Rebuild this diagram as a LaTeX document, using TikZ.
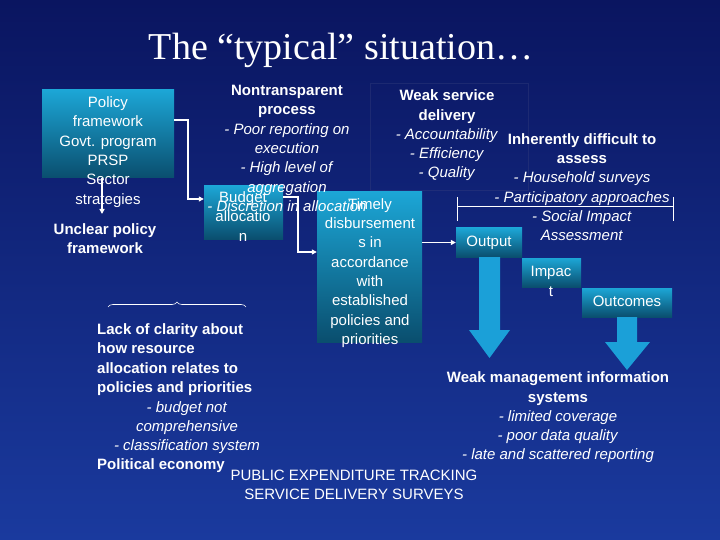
\documentclass[tikz,border=0pt]{standalone}
\usepackage{fontspec}
\setmainfont{Liberation Sans}
\newfontfamily\titlefont{Liberation Serif}
\usetikzlibrary{decorations.pathreplacing,arrows.meta}
\definecolor{bgtop}{HTML}{0A1560}
\definecolor{bgbot}{HTML}{1A3A9E}
\definecolor{boxtop}{HTML}{1CA6D6}
\definecolor{boxbot}{HTML}{0A4E6E}
\definecolor{bigarrow}{HTML}{1BA0D8}
\tikzset{
  tbox/.style={top color=boxtop,bottom color=boxbot,draw=none},
  txt/.style={text=white,align=center,font=\fontsize{15}{19.3}\selectfont,inner sep=0pt},
  conn/.style={white,line width=1.2pt,-{Triangle[length=5pt,width=5pt]}},
  big/.style={fill=bigarrow,draw=none}
}
\begin{document}
\begin{tikzpicture}[x=1pt,y=-1pt]
\useasboundingbox (0,0) rectangle (720,540);
\shade[top color=bgtop,bottom color=bgbot] (0,0) rectangle (720,540);
\draw[white!20!bgtop,opacity=0.35] (370,83) rectangle (528,190);
% boxes
\node[tbox,minimum width=132,minimum height=88,inner sep=0pt] (pol) at (108,134) {};
\node[tbox,minimum width=79,minimum height=53,inner sep=0pt] (bud) at (243.5,212.5) {};
\node[tbox,minimum width=105,minimum height=150,inner sep=0pt] (tim) at (369.5,267) {};
\node[tbox,minimum width=66,minimum height=29,inner sep=0pt] (out) at (489,242.5) {};
\node[tbox,minimum width=59,minimum height=29,inner sep=0pt] (imp) at (551.5,272.5) {};
\node[tbox,minimum width=90,minimum height=29,inner sep=0pt] (outc) at (627,302.5) {};
% big arrows
\fill[big] (479,257) -- (500,257) -- (500,330) -- (510,330) -- (489.5,358) -- (469,330) -- (479,330) -- cycle;
\fill[big] (617,317) -- (637,317) -- (637,342) -- (650,342) -- (627,370) -- (605,342) -- (617,342) -- cycle;
% connectors
\coordinate (c1) at (188,120); \coordinate (c2) at (188,199);
\draw[conn] (pol.east |- c1) -- (c1) -- (c2) -- (bud.west |- c2);
\coordinate (c3) at (298,197); \coordinate (c4) at (298,252);
\draw[conn] (bud.east |- c3) -- (c3) -- (c4) -- (tim.west |- c4);
\draw[conn] (tim.east |- out) -- (out.west);
\coordinate (c5) at (102,214);
\draw[conn] (102,178) -- (c5);
% bracket right
\draw[white,line width=0.8pt] (457,197) -- (457,221) (673,197) -- (673,221) (457,206) -- (673,206);
% brace
\draw[white,line width=0.6pt,decorate,decoration={brace,amplitude=5pt}] (108,307) -- (246,307);
% title
\node[text=white,font=\titlefont\fontsize{38}{44}\selectfont,inner sep=0pt] (title) at (341,50) {The “typical” situation…};
% texts
\node[txt] (t1) at (108,152) {Policy\\framework\\Govt. program\\PRSP\\Sector\\strategies};
\node[txt,font=\bfseries\fontsize{15}{19.3}\selectfont] (t2) at (105,238.5) {Unclear policy\\framework};
\node[txt] (t3) at (287,148.5) {\textbf{Nontransparent}\\\textbf{process}\\\textit{- Poor reporting on}\\\textit{execution}\\\textit{- High level of}\\\textit{aggregation}\\\textit{- Discretion in allocation}};
\node[txt] (t4) at (243,216.5) {Budget\\allocatio\\n};
\node[txt] (t5) at (370,273) {Timely\\disbursement\\s in\\accordance\\with\\established\\policies and\\priorities};
\node[txt] (t6) at (447,135.5) {\textbf{Weak service}\\\textbf{delivery}\\\textit{- Accountability}\\\textit{- Efficiency}\\\textit{- Quality}};
\node[txt] (t7) at (582,187) {\textbf{Inherently difficult to}\\\textbf{assess}\\\textit{- Household surveys}\\\textit{- Participatory approaches}\\\textit{- Social Impact}\\\textit{Assessment}};
\node[txt] (t8) at (489,242.5) {Output};
\node[txt] (t9) at (551,281.5) {Impac\\t};
\node[txt] (t10) at (627,301) {Outcomes};
\node[txt,align=left,anchor=west] (t11) at (97,359.5) {\textbf{Lack of clarity about}\\\textbf{how resource}\\\textbf{allocation relates to}\\\textbf{policies and priorities}};
\node[txt] (t12) at (187,427.5) {\textit{- budget not}\\\textit{comprehensive}\\\textit{- classification system}};
\node[txt,anchor=west,font=\bfseries\fontsize{15}{19.3}\selectfont] (t13) at (97,466) {Political economy};
\node[txt] (t14) at (558,417.5) {\textbf{Weak management information}\\\textbf{systems}\\\textit{- limited coverage}\\\textit{- poor data quality}\\\textit{- late and scattered reporting}};
\node[txt] (t15) at (354,484.5) {PUBLIC EXPENDITURE TRACKING\\SERVICE DELIVERY SURVEYS};
\end{tikzpicture}
\end{document}
